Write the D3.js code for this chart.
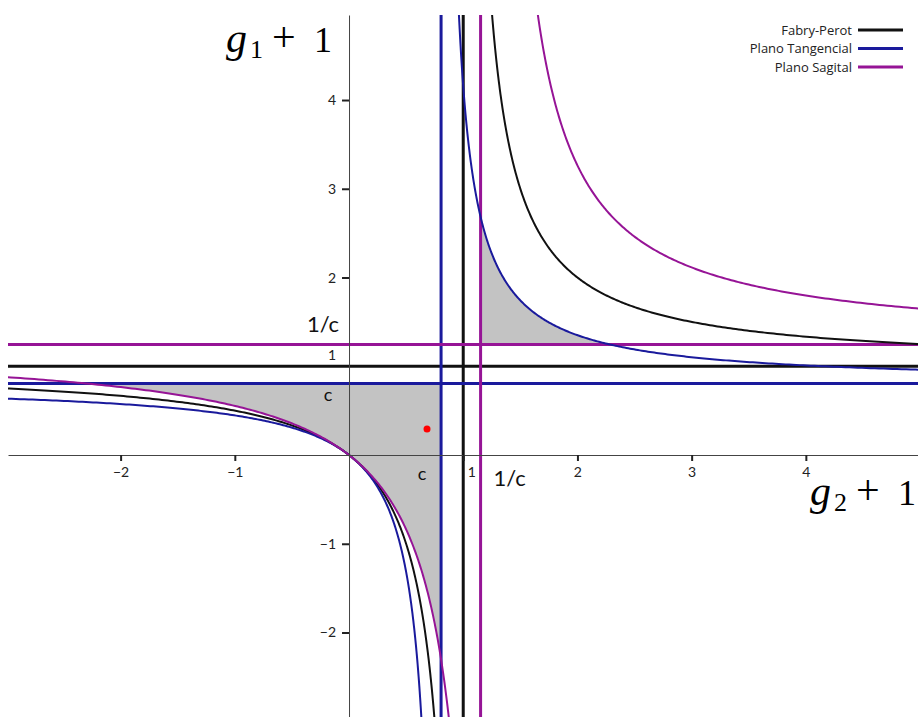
<!DOCTYPE html>
<html>
<head>
<meta charset="utf-8">
<script src="https://cdn.jsdelivr.net/npm/d3@7/dist/d3.min.js"></script>
<style>
  html, body { margin: 0; padding: 0; background: #fff; }
  svg { display: block; }
  .tick text { font-family: Lato, "Noto Sans", sans-serif; font-size: 14px; fill: #222; }
</style>
</head>
<body>
<svg id="chart" width="918" height="717"></svg>
<script>
// Resonator stability diagram: g1+1 versus g2+1
const seriesNames = ["Fabry-Perot", "Plano Tangencial", "Plano Sagital"];
const seriesColors = ["#111111", "#1a1a9c", "#961496"];
// hyperbola (x - a)(y - a) = a^2 through the origin, one parameter per series
const hyperbolaA = [1.0, 0.806, 1.24];
// asymptote lines as drawn for each series
const verticalLines = [1.0, 0.806, 1.152];
const horizontalLines = [1.0, 0.806, 1.245];
const xTicks = [-2, -1, 1, 2, 3, 4];
const yTicks = [-2, -1, 1, 2, 3, 4];
const markerPoint = [0.683, 0.293];

const svg = d3.select("#chart");
const plot = { left: 8, right: 918, top: 15, bottom: 717 };

const x = d3.scaleLinear().domain([-2.986, 4.982]).range([plot.left, plot.right]);
const y = d3.scaleLinear().domain([-2.952, 4.958]).range([plot.bottom, plot.top]);

svg.append("defs").append("clipPath").attr("id", "plotClip")
  .append("rect")
  .attr("x", plot.left).attr("y", plot.top)
  .attr("width", plot.right - plot.left).attr("height", plot.bottom - plot.top);

const g = svg.append("g").attr("clip-path", "url(#plotClip)");

// branch points of (x-a)(y-a)=a^2, parametrised so both steep and flat parts are smooth
function branch(a, sign) {
  const pts = [];
  for (let t = -7; t <= 7.0001; t += 0.01) {
    const u = sign * a * Math.exp(t);
    const v = sign * a * Math.exp(-t);
    pts.push([a + u, a + v]);
  }
  return pts;
}
const curveY = (a, xv) => a * xv / (xv - a);
const curveX = (a, yv) => a * yv / (yv - a);

const line = d3.line().x(d => x(d[0])).y(d => y(d[1]));

// stable region, lower left: under y = c, left of x = c, above the sagittal curve
{
  const cx = verticalLines[1], cy = horizontalLines[1], a = hyperbolaA[2];
  const pts = [[cx, curveY(a, cx)]];
  branch(a, -1).forEach(p => { if (p[0] < cx && p[1] < cy) pts.push(p); });
  pts.push([curveX(a, cy), cy]);
  pts.push([cx, cy]);
  g.append("path").attr("d", line(pts) + "Z").attr("fill", "#c3c3c3").attr("stroke", "none");
}
// stable region, upper right: right of x = 1/c, above y = 1/c, under the tangential curve
{
  const cx = verticalLines[2], cy = horizontalLines[2], a = hyperbolaA[1];
  const pts = [[cx, curveY(a, cx)]];
  branch(a, 1).forEach(p => { if (p[0] > cx && p[1] > cy) pts.push(p); });
  pts.push([curveX(a, cy), cy]);
  pts.push([cx, cy]);
  g.append("path").attr("d", line(pts) + "Z").attr("fill", "#c3c3c3").attr("stroke", "none");
}

// axes through the origin
const xAxis = d3.axisBottom(x).tickValues(xTicks).tickSize(6).tickSizeOuter(0).tickPadding(6).tickFormat(d3.format("d"));
const yAxis = d3.axisLeft(y).tickValues(yTicks).tickSize(7).tickSizeOuter(0).tickPadding(6).tickFormat(d3.format("d"));

const gx = svg.append("g").attr("transform", `translate(0,${y(0)})`).call(xAxis);
const gy = svg.append("g").attr("transform", `translate(${x(0)},0)`).call(yAxis);
[gx, gy].forEach(ax => {
  ax.select(".domain").attr("stroke", "#444").attr("stroke-width", 1);
  ax.selectAll(".tick line").attr("stroke", "#222").attr("stroke-width", 2);
});
gx.selectAll(".tick text").filter(d => d === 1).attr("dx", 8);
gy.selectAll(".tick text").filter(d => d === 1).attr("dy", "-0.45em");
gy.selectAll(".tick").filter(d => d === 1).select("line").attr("opacity", 0);

// asymptote lines
seriesNames.forEach((name, i) => {
  g.append("line")
    .attr("x1", x(verticalLines[i])).attr("x2", x(verticalLines[i]))
    .attr("y1", plot.top).attr("y2", plot.bottom)
    .attr("stroke", seriesColors[i]).attr("stroke-width", 3);
  g.append("line")
    .attr("x1", plot.left).attr("x2", plot.right)
    .attr("y1", y(horizontalLines[i])).attr("y2", y(horizontalLines[i]))
    .attr("stroke", seriesColors[i]).attr("stroke-width", 3);
});

// hyperbola branches
seriesNames.forEach((name, i) => {
  [1, -1].forEach(sign => {
    const pts = branch(hyperbolaA[i], sign).filter(p =>
      p[0] > -4 && p[0] < 6 && p[1] > -4 && p[1] < 6);
    g.append("path").attr("d", line(pts))
      .attr("fill", "none").attr("stroke", seriesColors[i]).attr("stroke-width", 2);
  });
});

// operating point
svg.append("circle").attr("cx", x(markerPoint[0])).attr("cy", y(markerPoint[1]))
  .attr("r", 3.5).attr("fill", "#ff0000");

// c and 1/c labels
const lab = (tx, ty, txt, size, anchor) => svg.append("text")
  .attr("x", tx).attr("y", ty).attr("text-anchor", anchor || "middle")
  .attr("font-family", "Lato, 'Noto Sans', sans-serif").attr("font-size", size)
  .attr("fill", "#111").text(txt);
lab(x(verticalLines[1]) - 19, y(0) + 25, "c", 18);
lab(x(0) - 21, y(horizontalLines[1]) + 18, "c", 18);
lab(x(verticalLines[2]) + 29, y(0) + 31, "1/c", 22);
lab(x(0) - 26, y(horizontalLines[2]) - 13, "1/c", 22);

// axis titles, each glyph group as its own text
function mathTitle(x0, base, sub) {
  const t = (tx, ty, txt, size, style) => svg.append("text")
    .attr("x", tx).attr("y", ty)
    .attr("font-family", "'Liberation Serif', 'DejaVu Serif', serif")
    .attr("font-size", size).attr("font-style", style || "normal")
    .attr("fill", "#000").text(txt);
  t(x0, base, "g", 42, "italic");
  t(x0 + 24, base + 6, sub, 26);
  t(x0 + 46, base - 1, "+", 42);
  t(x0 + 88, base, "1", 36);
}
mathTitle(226, 52, "1");
mathTitle(810, 505, "2");

// legend
const legend = svg.append("g");
seriesNames.forEach((name, i) => {
  const ly = 30 + i * 18.5;
  legend.append("text").attr("x", 852).attr("y", ly + 4.5).attr("text-anchor", "end")
    .attr("font-family", "'Open Sans', 'Noto Sans', sans-serif").attr("font-size", 13)
    .attr("fill", "#222").text(name);
  legend.append("line").attr("x1", 858).attr("x2", 903).attr("y1", ly).attr("y2", ly)
    .attr("stroke", seriesColors[i]).attr("stroke-width", 3);
});
</script>
</body>
</html>
